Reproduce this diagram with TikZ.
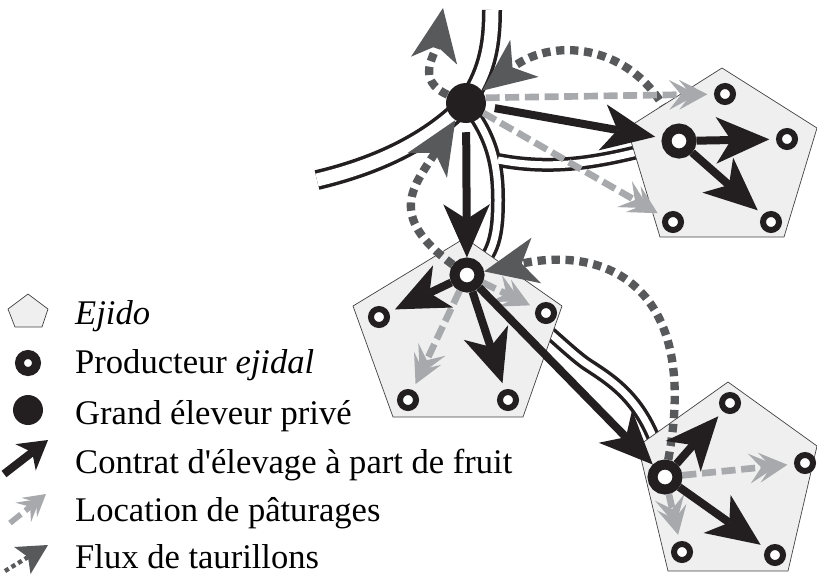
\documentclass[tikz,border=0pt]{standalone}
\usepackage{fontspec}
\setmainfont{Liberation Serif}
\usetikzlibrary{arrows.meta}

\definecolor{encre}{HTML}{231F20}
\definecolor{grisfonce}{HTML}{58595B}
\definecolor{grisclair}{HTML}{A7A9AC}
\definecolor{fondejido}{HTML}{EEEFEE}

\pgfdeclarelayer{routes}
\pgfdeclarelayer{zones}
\pgfsetlayers{routes,zones,main}

\tikzset{
  ejido/.style={draw=encre!85, line width=0.6pt, fill=fondejido},
  prod/.style={circle, draw=encre, fill=white, line width=0.18cm,
    minimum size=0.48cm, inner sep=0pt},
  prodmain/.style={prod, line width=0.3cm, minimum size=0.75cm},
  eleveur/.style={circle, fill=encre, minimum size=1.2cm, inner sep=0pt},
  contrat/.style={encre, line width=0.24cm, shorten >=0.2cm,
    -{Stealth[length=1.6cm, width=1.4cm, inset=0.45cm, line width=0pt]}},
  location/.style={grisclair, line width=0.2cm, shorten >=0.2cm,
    dash pattern=on 0.42cm off 0.17cm,
    -{Stealth[length=0.85cm, width=0.9cm, inset=0.36cm, line width=0pt, sep=-0.55cm]
      Stealth[length=0.85cm, width=0.9cm, inset=0.36cm, line width=0pt]}},
  flux/.style={grisfonce, line width=0.25cm,
    dash pattern=on 0.25cm off 0.17cm,
    -{Stealth[length=1.6cm, width=1.4cm, inset=0.45cm, line width=0pt]}},
  legende/.style={anchor=base west, inner sep=0pt,
    font=\fontsize{29.5pt}{35pt}\selectfont}
}

\begin{document}
\begin{tikzpicture}[x=0.03cm, y=-0.03cm]
  \useasboundingbox (0,0) rectangle (817,575);

  % --- Actors ---
  \node[eleveur] (ele) at (466,103) {};
  \node[prodmain] (pA) at (679,141) {};
  \node[prod] (pA1) at (725,94) {};
  \node[prod] (pA2) at (787,139) {};
  \node[prod] (pA3) at (673,222) {};
  \node[prod] (pA4) at (771,222) {};
  \node[prodmain] (pB) at (467,275) {};
  \node[prod] (pB1) at (379,317) {};
  \node[prod] (pB2) at (546,313) {};
  \node[prod] (pB3) at (408,400) {};
  \node[prod] (pB4) at (508,400) {};
  \node[prodmain] (pC) at (665,477) {};
  \node[prod] (pC1) at (730,403) {};
  \node[prod] (pC2) at (805,463) {};
  \node[prod] (pC3) at (682,552) {};
  \node[prod] (pC4) at (775,555) {};
  \coordinate (rtop) at (492,10);
  \coordinate (rleft) at (317,180);
  \coordinate (fork) at (498,160);
  \coordinate (vente) at (443,8);

  % --- Roads: black edges first, white inside second ---
  \begin{pgfonlayer}{routes}
    \foreach \c/\wa/\wb in {encre/0.6/0.42, white/0.39/0.21} {
      \draw[\c, line width=\wa cm] (rtop) .. controls (492,50) and (485,75) .. (ele.center);
      \draw[\c, line width=\wa cm] (rleft) .. controls (380,165) and (430,140) .. (ele.center);
      \draw[\c, line width=\wb cm] (ele.center) .. controls (490,135) and (498,160) .. (498,200)
        .. controls (498,240) and (492,260) .. (pB.center);
      \draw[\c, line width=\wb cm] (fork) .. controls (560,172) and (610,160) .. (pA.center);
      \draw[\c, line width=\wb cm] (pB.center) .. controls (520,300) and (560,345) .. (585,363)
        .. controls (610,380) and (650,400) .. (pC.center);
    }
    \draw[flux] (pA) .. controls (640,45) and (555,35) .. (ele);
  \end{pgfonlayer}

  % --- Ejidos ---
  \begin{pgfonlayer}{zones}
    \draw[ejido] (722,68) -- (817,128) -- (784,237) -- (660,237) -- (627,128) -- cycle;
    \draw[ejido] (465,238) -- (562,306) -- (523,417) -- (393,417) -- (353,306) -- cycle;
    \draw[ejido] (728,382) -- (817,446) -- (788,571) -- (668,571) -- (638,446) -- cycle;
  \end{pgfonlayer}

  % --- Location de paturages ---
  \draw[location] (ele.15) -- (pA1);
  \draw[location] (ele) -- (pA3);
  \draw[location] (pB) -- (pB2);
  \draw[location] (pB) -- (pB3);
  \draw[location] (pC) -- (pC2);
  \draw[location] (pC) -- (pC3);

  % --- Flux de taurillons ---
  \draw[flux] (ele) .. controls (415,80) and (435,55) .. (vente);
  \draw[flux] (pB) .. controls (385,215) and (415,185) .. (ele);
  \draw[flux] (pC) .. controls (700,290) and (610,245) .. (pB);

  % --- Contrats ---
  \draw[contrat, shorten <=0.27cm] (ele) -- (pA);
  \draw[contrat, shorten <=0.27cm, shorten >=0pt] (ele) -- (pB);
  \draw[contrat] (pA) -- (pA2);
  \draw[contrat] (pA) -- (pA4);
  \draw[contrat] (pB) -- (pB1);
  \draw[contrat] (pB) -- (pB4);
  \draw[contrat, shorten >=0pt] (pB) -- (pC);
  \draw[contrat] (pC) -- (pC1);
  \draw[contrat] (pC) -- (pC4);

  % --- Legend ---
  \draw[ejido] (28,294) -- (48,309) -- (42,327) -- (15,327) -- (8,309) -- cycle;
  \node[prod, line width=0.27cm, minimum size=0.51cm] (legprod) at (28,363) {};
  \node[eleveur, minimum size=0.9cm] (legele) at (28,410) {};
  \coordinate (legcA) at (4,474);
  \coordinate (legcB) at (48,440);
  \coordinate (leglA) at (10,523);
  \coordinate (leglB) at (46,494);
  \coordinate (legfA) at (5,571);
  \coordinate (legfB) at (48,545);
  \draw[contrat, shorten >=0pt, line width=0.24cm,
    -{Stealth[length=0.85cm, width=1.0cm, inset=0.25cm, line width=0pt]}] (legcA) -- (legcB);
  \draw[location, shorten >=0pt, line width=0.17cm,
    -{Stealth[length=0.65cm, width=0.75cm, inset=0.27cm, line width=0pt, sep=-0.42cm]
      Stealth[length=0.65cm, width=0.75cm, inset=0.27cm, line width=0pt]}] (leglA) -- (leglB);
  \draw[flux, line width=0.13cm, dash pattern=on 0.13cm off 0.1cm,
    -{Stealth[length=0.9cm, width=0.95cm, inset=0.2cm, line width=0pt]}] (legfA) -- (legfB);

  \node[legende] (lejido) at (75,324) {\textit{Ejido}};
  \node[legende] (lprod) at (75,373) {Producteur \textit{ejidal}};
  \node[legende] (lele) at (75,424) {Grand éleveur privé};
  \node[legende] (lcontrat) at (75,473) {Contrat d\textquotesingle élevage à part de fruit};
  \node[legende] (lloc) at (75,521) {Location de pâturages};
  \node[legende] (lflux) at (75,568) {Flux de taurillons};
\end{tikzpicture}
\end{document}
